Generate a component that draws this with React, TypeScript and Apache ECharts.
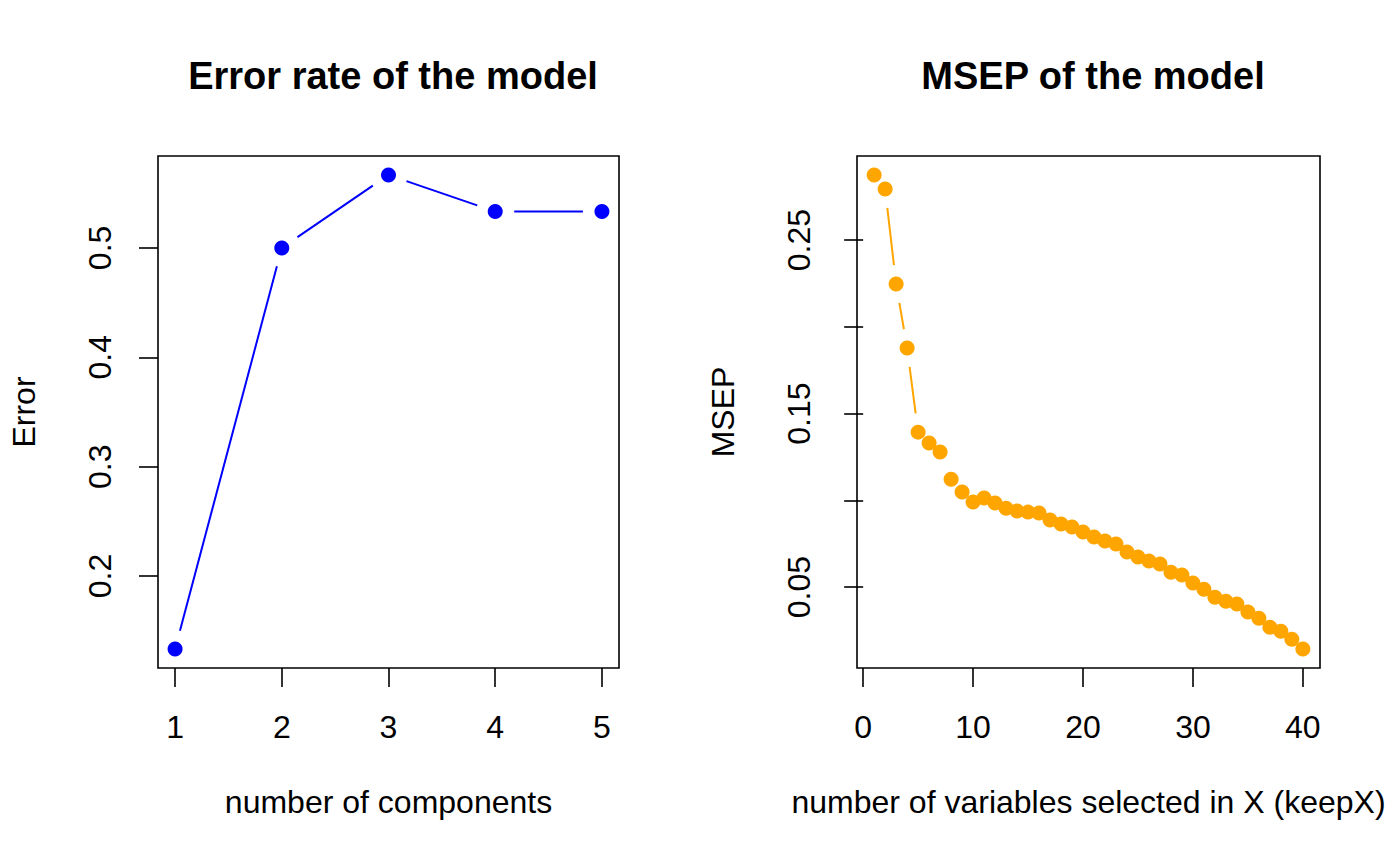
import React, { useEffect, useRef } from "react";
import * as echarts from "echarts";

const errX = [1, 2, 3, 4, 5];
const errY = [0.1333, 0.5, 0.5667, 0.5333, 0.5333];
const errXTicks = [1, 2, 3, 4, 5];
const errYTicks = [0.2, 0.3, 0.4, 0.5];

const msepX = [
  1, 2, 3, 4, 5, 6, 7, 8, 9, 10, 11, 12, 13, 14, 15, 16, 17, 18, 19, 20,
  21, 22, 23, 24, 25, 26, 27, 28, 29, 30, 31, 32, 33, 34, 35, 36, 37, 38, 39, 40,
];
const msepY = [
  0.2875, 0.2794, 0.2246, 0.1878, 0.1393, 0.133, 0.1278, 0.1122, 0.1048, 0.099,
  0.1013, 0.0984, 0.0955, 0.0938, 0.0932, 0.0927, 0.0886, 0.0863, 0.0846, 0.0817,
  0.0788, 0.0765, 0.0748, 0.0702, 0.0673, 0.065, 0.0633, 0.0586, 0.0569, 0.0523,
  0.0488, 0.0442, 0.0419, 0.0402, 0.0356, 0.0321, 0.0269, 0.0246, 0.02, 0.0143,
];
const msepXTicks = [0, 10, 20, 30, 40];
const msepYTicks = [0.05, 0.1, 0.15, 0.2, 0.25];
const msepYLabels = [0.05, 0.15, 0.25];

const FONT = "Liberation Sans";
const LABEL_SIZE = 32;

function range4(vals: number[]) {
  const mn = Math.min(...vals);
  const mx = Math.max(...vals);
  const d = (mx - mn) * 0.04;
  return [mn - d, mx + d];
}

function segData(xs: number[], ys: number[]) {
  const out: number[][] = [];
  for (let i = 0; i < xs.length - 1; i++) out.push([xs[i], ys[i], xs[i + 1], ys[i + 1]]);
  return out;
}

function gapLine(color: string, gap: number) {
  return (params: any, api: any) => {
    const a = api.coord([api.value(0), api.value(1)]);
    const b = api.coord([api.value(2), api.value(3)]);
    const dx = b[0] - a[0];
    const dy = b[1] - a[1];
    const len = Math.sqrt(dx * dx + dy * dy);
    if (len <= 2 * gap) return null;
    const ux = dx / len;
    const uy = dy / len;
    return {
      type: "line",
      shape: {
        x1: a[0] + ux * gap,
        y1: a[1] + uy * gap,
        x2: b[0] - ux * gap,
        y2: b[1] - uy * gap,
      },
      style: { stroke: color, lineWidth: 2 },
    };
  };
}

export default function App() {
  const ref = useRef<HTMLDivElement>(null);
  useEffect(() => {
    if (!ref.current) return;
    const chart = echarts.init(ref.current, undefined, { renderer: "svg" });
    const [ex0, ex1] = range4(errX);
    const [ey0, ey1] = range4(errY);
    const [mx0, mx1] = range4(msepX);
    const [my0, my1] = range4(msepY);

    const labelStyle = { fontFamily: FONT, fontSize: LABEL_SIZE, color: "#000" };
    const tick = { show: true, length: 19, inside: false, lineStyle: { color: "#000", width: 1.6 } };

    const xAxisBase = (gridIndex: number, min: number, max: number, ticks: number[], name: string) => ({
      type: "value",
      gridIndex,
      min,
      max,
      name,
      nameLocation: "middle",
      nameGap: 118,
      nameTextStyle: labelStyle,
      axisLine: { show: false },
      splitLine: { show: false },
      axisTick: { ...tick, customValues: ticks },
      axisLabel: {
        ...labelStyle,
        margin: 43,
        customValues: ticks,
        formatter: (v: number) => String(v),
      },
    });
    const yAxisBase = (gridIndex: number, min: number, max: number, ticks: number[], labels: number[], name: string) => ({
      type: "value",
      gridIndex,
      min,
      max,
      name,
      nameLocation: "middle",
      nameGap: 118,
      nameTextStyle: labelStyle,
      axisLine: { show: false },
      splitLine: { show: false },
      axisTick: { ...tick, customValues: ticks },
      axisLabel: {
        ...labelStyle,
        rotate: 90,
        margin: 42,
        customValues: labels,
        formatter: (v: number) => String(v),
      },
    });

    const titleStyle = { fontFamily: FONT, fontSize: 38, fontWeight: "bold", color: "#000" };

    chart.setOption({
      animation: false,
      backgroundColor: "#fff",
      title: [
        { text: "Error rate of the model", left: 388, top: 52, textAlign: "center", textStyle: titleStyle },
        { text: "MSEP of the model", left: 1088, top: 52, textAlign: "center", textStyle: titleStyle },
      ],
      grid: [
        { left: 158, top: 156, width: 461, height: 512, show: true, borderColor: "#000", borderWidth: 1.6, backgroundColor: "transparent" },
        { left: 857, top: 156, width: 463, height: 512, show: true, borderColor: "#000", borderWidth: 1.6, backgroundColor: "transparent" },
      ],
      xAxis: [
        xAxisBase(0, ex0, ex1, errXTicks, "number of components"),
        xAxisBase(1, mx0, mx1, msepXTicks, "number of variables selected in X (keepX)"),
      ],
      yAxis: [
        yAxisBase(0, ey0, ey1, errYTicks, errYTicks, "Error"),
        yAxisBase(1, my0, my1, msepYTicks, msepYLabels, "MSEP"),
      ],
      series: [
        {
          type: "custom",
          xAxisIndex: 0,
          yAxisIndex: 0,
          data: segData(errX, errY),
          encode: { x: [0, 2], y: [1, 3] },
          renderItem: gapLine("#0000FF", 19),
          silent: true,
        },
        {
          type: "scatter",
          xAxisIndex: 0,
          yAxisIndex: 0,
          data: errX.map((x, i) => [x, errY[i]]),
          symbol: "circle",
          symbolSize: 15,
          itemStyle: { color: "#0000FF", opacity: 1 },
        },
        {
          type: "custom",
          xAxisIndex: 1,
          yAxisIndex: 1,
          data: segData(msepX, msepY),
          encode: { x: [0, 2], y: [1, 3] },
          renderItem: gapLine("#FFA500", 19),
          silent: true,
        },
        {
          type: "scatter",
          xAxisIndex: 1,
          yAxisIndex: 1,
          data: msepX.map((x, i) => [x, msepY[i]]),
          symbol: "circle",
          symbolSize: 15,
          itemStyle: { color: "#FFA500", opacity: 1 },
        },
      ],
    });
    return () => chart.dispose();
  }, []);
  return (
    <div
      ref={ref}
      style={{ position: "fixed", left: 0, top: 0, width: 1400, height: 865, background: "#fff" }}
    />
  );
}
